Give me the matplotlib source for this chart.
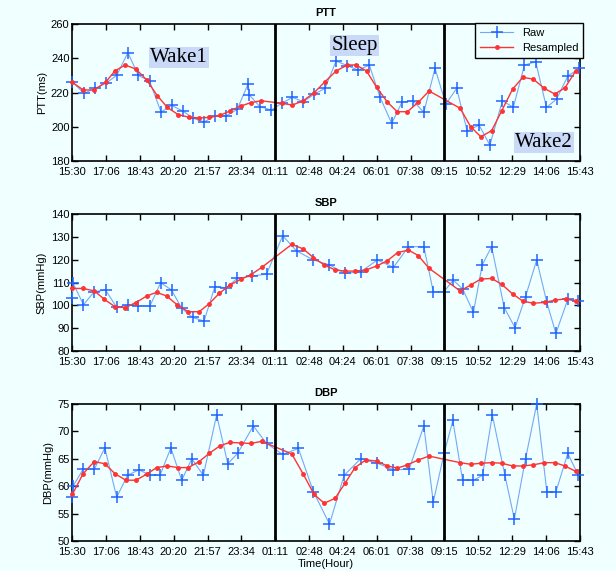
import matplotlib
matplotlib.use("Agg")
import matplotlib.pyplot as plt

# Tick labels and phase boundaries (clock time)
tick_labels = ["15:30", "17:06", "18:43", "20:20", "21:57", "23:34", "01:11", "02:48",
               "04:24", "06:01", "07:38", "09:15", "10:52", "12:29", "14:06", "15:43"]
boundaries = ["01:11", "09:15"]

# PTT - raw readings (minutes after 15:30) and resampled series
ptt_raw_t = [0, 33, 65, 96, 127, 159, 189, 221, 254, 284, 316, 346, 377, 408, 440, 472,
             503, 507, 537, 570, 599, 630, 661, 692, 723, 755, 787, 818, 850, 880, 914, 944,
             976, 1006, 1038, 1069, 1100, 1130, 1164, 1195, 1231, 1262, 1294, 1326, 1357,
             1386, 1418, 1451]
ptt_raw = [226.3, 219.5, 222.4, 225.4, 230, 243.3, 230, 226.7, 208.6, 212.5, 209.2, 205,
           202.8, 206.3, 206.3, 210.2, 225, 218.5, 211.7, 209.8, 213.7, 217.2, 214.6, 219,
           222.4, 238.4, 235.7, 233.1, 236, 217.6, 202, 214.6, 215, 208.4, 234.1, 213.3,
           222.4, 197.5, 201, 189.3, 215.2, 211.3, 236, 238, 211.3, 216.2, 229.6, 234.1]
ptt_res_t = [0, 31, 63, 95, 122, 151, 182, 213, 243, 272, 303, 335, 363, 391, 423, 451,
             482, 511, 540, 599, 630, 661, 692, 723, 755, 787, 812, 842, 871, 902, 930, 959,
             990, 1021, 1110, 1140, 1169, 1200, 1229, 1260, 1289, 1319, 1351, 1381, 1410, 1441]
ptt_res = [226, 221.5, 221.5, 226, 232.6, 236.1, 233.7, 227.3, 218.2, 211.3, 207.1, 205.5,
           205.1, 205.5, 206.7, 209.2, 212.1, 214.1, 215.2, 213.7, 212.7, 215.2, 219.9, 226.3,
           232.6, 236.1, 236.1, 232.6, 223, 214.3, 208.8, 208.8, 214.3, 220.9, 210.8, 200,
           194.2, 197.7, 209.4, 222, 228.8, 227.9, 222.4, 219.1, 222.8, 232.7]

# SBP
sbp_raw_t = [0, 2, 32, 63, 95, 127, 158, 189, 222, 253, 284, 313, 344, 377, 408, 440, 472,
             513, 556, 602, 642, 690, 736, 780, 826, 873, 919, 962, 1006, 1033, 1064, 1090,
             1117, 1148, 1173, 1200, 1236, 1267, 1297, 1329, 1358, 1384, 1418, 1448]
sbp_raw = [103.1, 109.7, 100.3, 106, 106.7, 99.1, 100.1, 99.7, 99.7, 109.9, 106.7, 98.7,
           94.7, 93.1, 108.2, 107.7, 111.8, 112.8, 113.7, 130.5, 123.8, 119.9, 117.7, 114,
           114.7, 119.9, 116.6, 125.7, 125.7, 106, 106, 111.1, 107.2, 96.9, 117.7, 125.7, 99,
           90.2, 103.8, 119.9, 101.3, 87.7, 102.6, 101.9]
sbp_res_t = [0, 31, 63, 92, 122, 151, 182, 213, 241, 270, 301, 332, 363, 391, 421, 451, 482,
             510, 542, 628, 661, 690, 721, 752, 780, 809, 840, 871, 902, 931, 962, 990, 1021,
             1110, 1140, 1169, 1200, 1229, 1260, 1289, 1319, 1353, 1381, 1412, 1441]
sbp_res = [107.4, 107.4, 106.3, 102.6, 99.4, 99, 101.2, 104.1, 105.7, 104.1, 100.1, 97.2,
           97.2, 100.6, 105.3, 108.9, 111.4, 113.3, 116.6, 126.7, 124.7, 120.9, 117.7, 115.5,
           115, 115, 115.5, 117.2, 119.6, 123.1, 124.2, 121.8, 116.2, 106.3, 108.9, 111.5,
           111.8, 109.2, 105, 101.9, 100.9, 101.3, 102.3, 102.8, 102]

# DBP
dbp_raw_t = [0, 2, 31, 63, 93, 127, 158, 191, 222, 251, 282, 313, 342, 375, 413, 445, 473,
             518, 556, 602, 647, 690, 736, 778, 825, 873, 919, 964, 1006, 1033, 1064, 1089,
             1117, 1148, 1174, 1202, 1238, 1265, 1297, 1329, 1358, 1384, 1418, 1448]
dbp_raw = [58, 60, 63.1, 63.1, 67, 58, 62, 63, 62, 62, 67, 61.1, 65, 62, 73, 64.1, 66, 71,
           67.8, 65.8, 66.9, 59, 53.1, 62, 65, 64.2, 63, 63.1, 71, 57.1, 66, 72, 61.1, 61.1,
           62, 73, 62, 54, 65, 75, 59, 59, 66, 62]
dbp_res_t = [0, 31, 63, 93, 122, 153, 182, 213, 241, 272, 303, 332, 363, 392, 423, 451, 482,
             511, 542, 628, 661, 692, 721, 752, 780, 809, 840, 871, 902, 930, 959, 990, 1021,
             1110, 1140, 1169, 1200, 1229, 1260, 1289, 1319, 1351, 1381, 1410, 1441]
dbp_res = [58.5, 62.3, 64.5, 64.1, 62.3, 61.1, 61.1, 62.2, 63.4, 63.7, 63.4, 63.4, 64.5, 66,
           67.4, 68, 67.9, 67.8, 68.2, 65.9, 62.2, 58.5, 56.9, 57.8, 60.5, 63.4, 64.8, 64.6,
           63.7, 63.3, 63.9, 64.8, 65.5, 64.3, 64, 64.2, 64.3, 64.2, 63.7, 63.7, 63.9, 64.3,
           64.3, 63.7, 62.7]

BG = "#f0ffff"
RAW_LINE = "#74a9f5"
RAW_MARK = "#1e64ff"
RES = "#ff3333"


# Zamiana godziny "HH:MM" na minuty od 15:30
def to_minutes(labels):
    out = []
    for lab in labels:
        h, m = map(int, lab.split(":"))
        v = (h * 60 + m - (15 * 60 + 30)) % 1440
        if out and v < out[-1]:
            v += 1440
        out.append(v)
    return out


def draw_panel(ax, title, ylabel, raw_t, raw, res_t, res, ylim, yticks):
    ax.set_facecolor(BG)
    raw_line, = ax.plot(raw_t, raw, "-", color=RAW_LINE, lw=0.8, marker="+", ms=9, mew=1.1,
                        mec=RAW_MARK, clip_on=False, label="Raw", zorder=3)
    res_line, = ax.plot(res_t, res, "-", color=RES, lw=1.0, marker=".", ms=5,
                        clip_on=False, label="Resampled", zorder=4)
    for b in to_minutes(boundaries):
        ax.axvline(b, color="black", lw=2, zorder=5)

    ticks = to_minutes(tick_labels)
    ax.set_xlim(ticks[0], ticks[-1])
    ax.set_xticks(ticks)
    ax.set_xticklabels(tick_labels)
    ax.set_ylim(*ylim)
    ax.set_yticks(yticks)
    ax.tick_params(direction="in", top=True, right=True, length=4, width=1, labelsize=8)
    ax.tick_params(axis="x", pad=4)
    ax.tick_params(axis="y", pad=2)
    for s in ax.spines.values():
        s.set_linewidth(1.2)
    ax.set_title(title, fontsize=8, fontweight="bold", pad=6)
    ax.set_ylabel(ylabel, fontsize=8, labelpad=3)
    return raw_line, res_line


def phase_label(ax, x, y, text):
    ax.text(x, y, text, ha="center", va="center", fontsize=15, family="Liberation Serif",
            bbox=dict(boxstyle="square,pad=0.05", facecolor="#c9d9f7", edgecolor="none"),
            zorder=6)


def main():
    plt.rcParams["font.family"] = ["Liberation Sans", "DejaVu Sans"]
    fig = plt.figure(figsize=(6.16, 5.71), dpi=100)
    fig.patch.set_facecolor(BG)

    ax1 = fig.add_axes([0.1174, 0.7180, 0.8242, 0.2399])
    ax2 = fig.add_axes([0.1174, 0.3853, 0.8242, 0.2399])
    ax3 = fig.add_axes([0.1174, 0.0525, 0.8242, 0.2399])

    h1, h2 = draw_panel(ax1, "PTT", "PTT(ms)", ptt_raw_t, ptt_raw, ptt_res_t, ptt_res,
                        (180, 260), range(180, 261, 20))
    draw_panel(ax2, "SBP", "SBP(mmHg)", sbp_raw_t, sbp_raw, sbp_res_t, sbp_res,
               (80, 140), range(80, 141, 10))
    draw_panel(ax3, "DBP", "DBP(mmHg)", dbp_raw_t, dbp_raw, dbp_res_t, dbp_res,
               (50, 75), range(50, 76, 5))
    ax3.set_xlabel("Time(Hour)", fontsize=8, labelpad=2)

    phase_label(ax1, 305, 240.7, "Wake1")
    phase_label(ax1, 808, 247.2, "Sleep")
    phase_label(ax1, 1349, 190.8, "Wake2")

    leg = ax1.legend(handles=[h1, h2], loc="upper right", bbox_to_anchor=(1.006, 1.007),
                     borderaxespad=0, fontsize=8, handlelength=3, fancybox=False,
                     framealpha=1, facecolor=BG, edgecolor="black")
    leg.get_frame().set_linewidth(1)
    leg.set_zorder(10)

    plt.savefig("out.png", dpi=100, facecolor=BG)


if __name__ == "__main__":
    main()
